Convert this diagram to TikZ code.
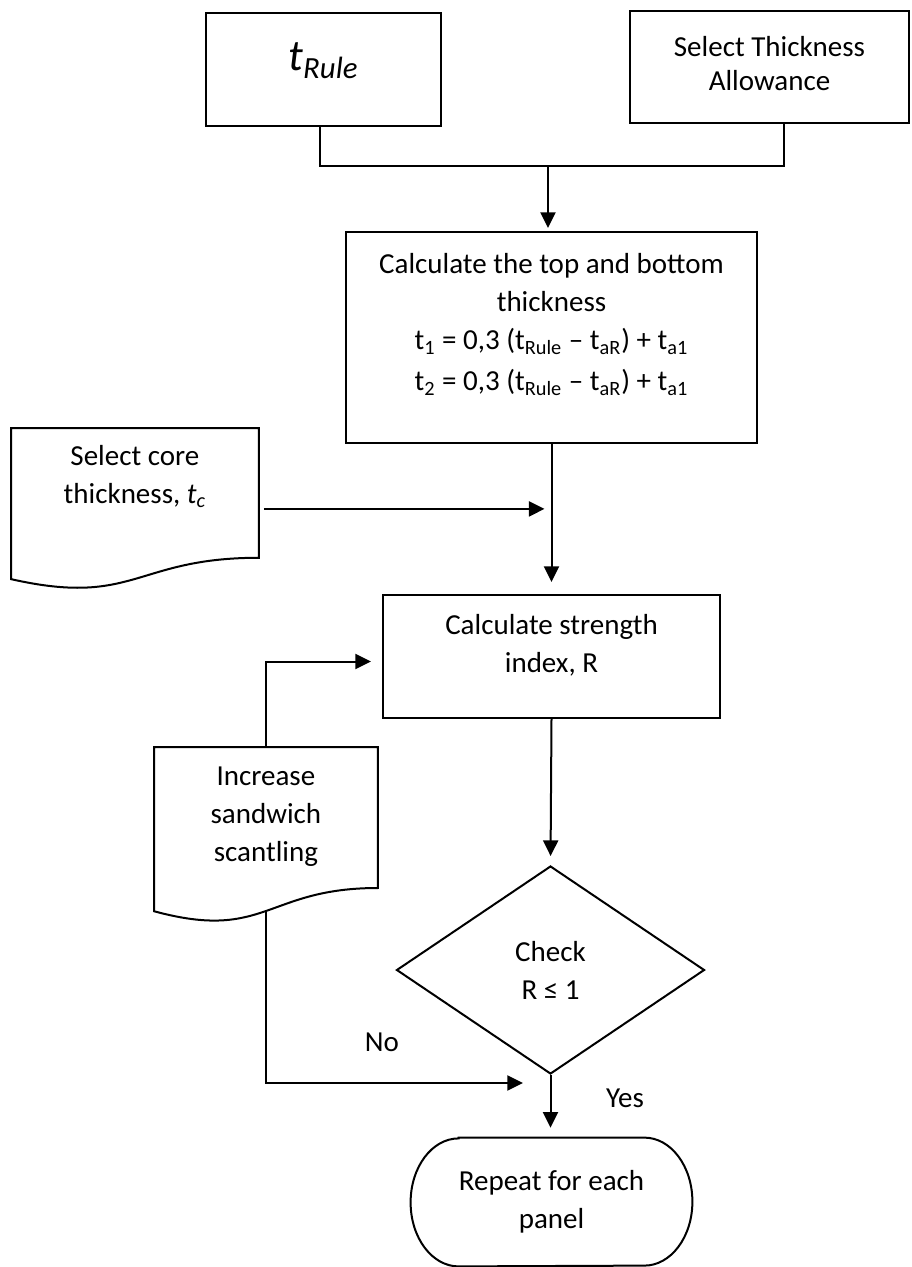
\documentclass[tikz,border=0pt]{standalone}
\usepackage{fontspec}
\setmainfont{Carlito}
\usetikzlibrary{arrows.meta, calc, shapes.geometric}
\newcommand{\tsub}[1]{\textsubscript{#1}}
\newcommand{\docoutline}[1]{%
  \draw[conn] (#1.north west) -- (#1.north east)
    -- ($(#1.south east)!0.198!(#1.north east)$)
    .. controls ($(#1.south)!0.198!(#1.north)$) and ($(#1.south)!-0.1075!(#1.north)$)
    .. ($(#1.south west)!0.066!(#1.north west)$) -- cycle;}

\begin{document}
\begin{tikzpicture}[x=0.5pt, y=-0.5pt,
    font=\fontsize{14.5}{19}\selectfont,
    conn/.style={line width=1pt},
    arr/.style={conn, -{Triangle[length=7.8pt,width=7.5pt]}},
    box/.style={draw, line width=1pt, inner sep=0pt, align=flush center, anchor=north west},
    doc/.style={inner sep=0pt, align=flush center, anchor=north west},
    decision/.style={draw, line width=1pt, diamond, inner sep=0pt, align=center,
      minimum width=154pt, minimum height=104pt},
    term/.style={inner sep=0pt, align=center, minimum width=140.5pt, minimum height=64pt}]
  \useasboundingbox (0,0) rectangle (911,1267);

  \node[box, text width=117.5pt, text height=29pt, text depth=27.5pt,
    font=\fontsize{22}{26}\selectfont\itshape] (trule) at (205,12) {t\tsub{Rule}};
  \node[box, text width=139.5pt, text height=23pt, text depth=33pt] (allow) at (629,10)
    {Select Thickness\\[-2pt]Allowance};
  \node[box, text width=205.5pt, text height=21pt, text depth=84.5pt] (calctop) at (345,231)
    {Calculate the top and bottom\\thickness\\
     t\tsub{1} = 0,3 (t\tsub{Rule} – t\tsub{aR}) + t\tsub{a1}\\[1.5pt]
     t\tsub{2} = 0,3 (t\tsub{Rule} – t\tsub{aR}) + t\tsub{a1}};
  \node[doc, text width=123.5pt, text height=18.5pt, text depth=62pt] (core) at (11,428)
    {Select core\\thickness, \textit{t\tsub{c}}};
  \docoutline{core}
  \node[box, text width=168.5pt, text height=19.5pt, text depth=42pt] (strength) at (382,594)
    {Calculate strength\\index, R};
  \node[doc, text width=111.5pt, text height=19pt, text depth=68.5pt] (increase) at (154,747)
    {Increase\\sandwich\\scantling};
  \docoutline{increase}
  \node[decision] (check) at (550.5,970) {Check\\R ≤ 1};
  \node[term] (term) at (551.5,1202) {Repeat for each\\panel};
  \draw[conn] ([xshift=24pt]term.north west) -- ([xshift=-24pt]term.north east)
    arc[start angle=90, end angle=-90, x radius=24pt, y radius=32pt]
    -- ([xshift=24pt]term.south west)
    arc[start angle=270, end angle=90, x radius=24pt, y radius=32pt] -- cycle;
  \node (nolbl) at (382,1042) {No};
  \node (yeslbl) at (625,1098) {Yes};
  \coordinate (join) at (548,166);
  \coordinate (noend) at (523,1083);

  \draw[conn] ([xshift=-2pt]trule.south) |- (join) -| ([xshift=7pt]allow.south);
  \draw[arr, shorten >=1.5pt] (join) -- (join |- calctop.north);
  \draw[arr, shorten >=6pt] (calctop.south) -- (strength.north);
  \draw[arr, shorten <=2.5pt, shorten >=3.5pt] (core.east) -- (core.east -| calctop.south);
  \draw[arr, shorten >=4.5pt] (strength.south) -- (check.north);
  \draw[arr] (increase.north) |- ($(strength.west)+(-5.5pt,-2.5pt)$);
  \draw[arr] ($(increase.south)!0.067!(increase.north)$) |- (noend);
  \draw[arr, shorten >=5pt] (check.south) -- (check.south |- term.north);
\end{tikzpicture}
\end{document}
